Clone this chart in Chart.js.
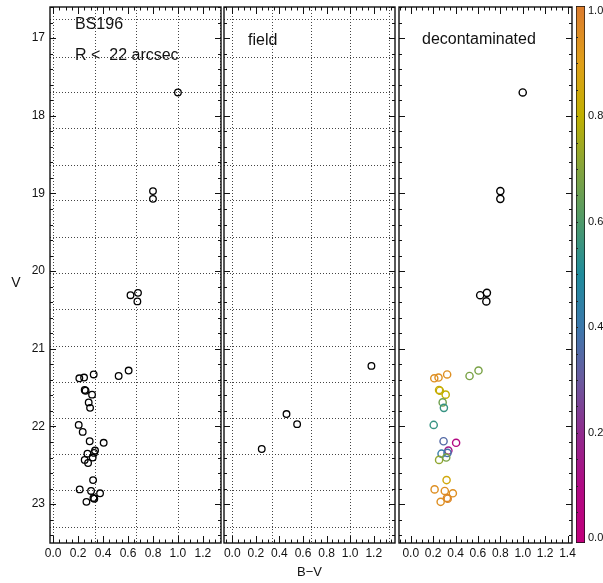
<!DOCTYPE html>
<html>
<head>
<meta charset="utf-8">
<script src="https://cdn.jsdelivr.net/npm/chart.js@4.4.1/dist/chart.umd.min.js"></script>
<style>
  html, body { margin: 0; padding: 0; background: #fff; }
  #wrap { position: relative; width: 603px; height: 583px; background: #fff; overflow: hidden; }
  #wrap canvas { position: absolute; left: 0; top: 0; }
</style>
</head>
<body>
<div id="wrap">
  <canvas id="pRegion" width="603" height="583"></canvas>
  <canvas id="pField" width="603" height="583"></canvas>
  <canvas id="pDecont" width="603" height="583"></canvas>
  <canvas id="pBar" width="603" height="583"></canvas>
</div>
<script>
const FONT = "'Liberation Sans', Arial, Helvetica, sans-serif";

// ---- axis ticks and grid ----
const vTicks = [17, 18, 19, 20, 21, 22, 23];
const bvTicks = [0.0, 0.2, 0.4, 0.6, 0.8, 1.0, 1.2];
const bvTicksDecont = [0.0, 0.2, 0.4, 0.6, 0.8, 1.0, 1.2, 1.4];
const probTicks = [0.0, 0.2, 0.4, 0.6, 0.8, 1.0];
const gridBV = [0, 0.333, 0.667, 1.0, 1.333];
const gridV = [16.76, 17.24, 17.70, 18.16, 18.63, 19.09, 19.56, 20.02, 20.49, 20.96, 21.43, 21.89, 22.36, 22.82, 23.29];

// ---- stars within R < 22 arcsec of BS196 ----
const regionBV = [1.00, 0.80, 0.80, 0.62, 0.68, 0.675,
  0.325, 0.525, 0.605, 0.21, 0.248,
  0.253, 0.26, 0.312, 0.285, 0.296, 0.205,
  0.237,
  0.293, 0.405, 0.336, 0.328, 0.275, 0.253, 0.317, 0.28,
  0.32, 0.213, 0.304, 0.376, 0.323, 0.33, 0.267];
const regionV = [17.70, 18.97, 19.07, 20.31, 20.28, 20.39,
  21.33, 21.35, 21.28, 21.38, 21.37,
  21.53, 21.54, 21.59, 21.69, 21.76, 21.98,
  22.07,
  22.19, 22.21, 22.31, 22.34, 22.35, 22.43, 22.40, 22.47,
  22.69, 22.81, 22.83, 22.86, 22.92, 22.93, 22.97];

// ---- comparison field, same area ----
const fieldBV = [0.25, 0.46, 0.55, 1.18];
const fieldV = [22.29, 21.84, 21.97, 21.22];

// ---- decontaminated sample; membership probability (null = no estimate, drawn black) ----
const decontBV = [1.00, 0.80, 0.80, 0.62, 0.68, 0.675,
  0.325, 0.525, 0.605, 0.21, 0.248,
  0.253, 0.26, 0.312, 0.285, 0.296, 0.205,
  0.293, 0.405, 0.336, 0.328, 0.275, 0.253, 0.317,
  0.32, 0.213, 0.304, 0.376, 0.323, 0.33, 0.267];
const decontV = [17.70, 18.97, 19.07, 20.31, 20.28, 20.39,
  21.33, 21.35, 21.28, 21.38, 21.37,
  21.53, 21.54, 21.59, 21.69, 21.76, 21.98,
  22.19, 22.21, 22.31, 22.34, 22.35, 22.43, 22.40,
  22.69, 22.81, 22.83, 22.86, 22.92, 22.93, 22.97];
const decontP = [null, null, null, null, null, null,
  0.95, 0.68, 0.68, 0.95, 0.95,
  0.82, 0.82, 0.80, 0.66, 0.55, 0.55,
  0.35, 0.08, 0.15, 0.38, 0.42, 0.72, 0.68,
  0.85, 0.95, 0.95, 0.95, 0.97, 0.97, 0.95];

// colour table for membership probability
const cmap = [
  [0.0, [192, 0, 124]], [0.1, [176, 10, 132]], [0.2, [143, 43, 141]],
  [0.3, [106, 90, 158]], [0.4, [60, 120, 172]], [0.5, [31, 140, 156]],
  [0.6, [79, 154, 106]], [0.7, [132, 164, 60]], [0.8, [192, 176, 0]],
  [0.9, [224, 160, 24]], [1.0, [220, 126, 44]]
];
function cmapColor(p) {
  if (p === null || p === undefined) return '#000';
  for (let i = 1; i < cmap.length; i++) {
    if (p <= cmap[i][0]) {
      const [p0, c0] = cmap[i - 1], [p1, c1] = cmap[i];
      const t = (p - p0) / (p1 - p0);
      const c = c0.map((v, k) => Math.round(v + (c1[k] - v) * t));
      return `rgb(${c[0]},${c[1]},${c[2]})`;
    }
  }
  const c = cmap[cmap.length - 1][1];
  return `rgb(${c[0]},${c[1]},${c[2]})`;
}

const V_MIN = 16.6, V_MAX = 23.5;

// frame: dotted grid, inward ticks on all four sides, box, annotations
const framePlugin = {
  id: 'frame',
  beforeDatasetsDraw(chart, args, o) {
    const { ctx, chartArea: a, scales: { x, y } } = chart;
    ctx.save();
    if (o.grid) {
      ctx.strokeStyle = '#444';
      ctx.lineWidth = 1;
      ctx.setLineDash([1, 2]);
      ctx.beginPath();
      gridBV.forEach(v => {
        const px = Math.round(x.getPixelForValue(v)) + 0.5;
        ctx.moveTo(px, a.top); ctx.lineTo(px, a.bottom);
      });
      gridV.forEach(v => {
        const py = Math.round(y.getPixelForValue(v)) + 0.5;
        ctx.moveTo(a.left, py); ctx.lineTo(a.right, py);
      });
      ctx.stroke();
      ctx.setLineDash([]);
    }
    ctx.strokeStyle = '#111';
    ctx.lineWidth = 1;
    ctx.beginPath();
    // B-V ticks: major on labels, minor every 0.05
    const xStep = 0.05;
    for (let k = Math.ceil(x.min / xStep - 1e-6); k * xStep <= x.max + 1e-6; k++) {
      const v = k * xStep;
      const major = Math.abs(v / 0.2 - Math.round(v / 0.2)) < 1e-6;
      const len = major ? 7 : 3.5;
      const px = Math.round(x.getPixelForValue(v)) + 0.5;
      ctx.moveTo(px, a.bottom); ctx.lineTo(px, a.bottom - len);
      ctx.moveTo(px, a.top); ctx.lineTo(px, a.top + len);
    }
    // V ticks: major each magnitude, minor every 0.2
    const yStep = 0.2;
    for (let k = Math.ceil(y.min / yStep - 1e-6); k * yStep <= y.max + 1e-6; k++) {
      const v = k * yStep;
      const major = Math.abs(v - Math.round(v)) < 1e-6;
      const len = major ? 6 : 3;
      const py = Math.round(y.getPixelForValue(v)) + 0.5;
      ctx.moveTo(a.left, py); ctx.lineTo(a.left + len, py);
      ctx.moveTo(a.right, py); ctx.lineTo(a.right - len, py);
    }
    ctx.stroke();
    ctx.restore();
  },
  afterDraw(chart, args, o) {
    const { ctx, chartArea: a } = chart;
    ctx.save();
    ctx.strokeStyle = '#111';
    ctx.lineWidth = 1.4;
    ctx.strokeRect(a.left, a.top, a.right - a.left, a.bottom - a.top);
    ctx.fillStyle = '#111';
    ctx.textBaseline = 'middle';
    (o.texts || []).forEach(t => {
      ctx.font = `${t.size || 16}px ${FONT}`;
      ctx.textAlign = t.align || 'left';
      ctx.fillText(t.text, t.x, t.y);
    });
    ctx.restore();
  }
};

function noEdgePadding(s) {
  s.paddingTop = 0; s.paddingBottom = 0; s.paddingLeft = 0; s.paddingRight = 0;
}

function xAxis(min, max, ticks, title) {
  return {
    type: 'linear', min, max,
    afterBuildTicks: s => { s.ticks = ticks.map(v => ({ value: v })); },
    afterFit: s => { s.height = 40; noEdgePadding(s); },
    grid: { display: false, drawTicks: false },
    border: { display: false },
    ticks: {
      color: '#111', padding: 3, autoSkip: false, maxRotation: 0,
      font: { family: FONT, size: 12 },
      callback: v => Number(v).toFixed(1)
    },
    title: title ? {
      display: true, text: title, color: '#111',
      font: { family: FONT, size: 13 }, padding: { top: 0, bottom: 3 }
    } : { display: false }
  };
}

function yAxis(show) {
  return {
    type: 'linear', min: V_MIN, max: V_MAX, reverse: true, display: show,
    afterBuildTicks: s => { s.ticks = vTicks.map(v => ({ value: v })); },
    afterFit: s => { s.width = show ? 50 : 0; noEdgePadding(s); },
    grid: { display: false, drawTicks: false },
    border: { display: false },
    ticks: {
      color: '#111', padding: 5, autoSkip: false,
      font: { family: FONT, size: 12 },
      callback: v => String(v)
    }
  };
}

function panel(id, cfg) {
  return new Chart(document.getElementById(id), {
    type: 'scatter',
    data: { datasets: cfg.datasets },
    options: {
      responsive: false, animation: false, devicePixelRatio: 1, events: [],
      layout: { padding: { left: cfg.padLeft, right: cfg.padRight, top: 7, bottom: 0 } },
      scales: { x: xAxis(cfg.xMin, cfg.xMax, cfg.xTicks, cfg.xTitle), y: yAxis(cfg.showY) },
      plugins: {
        legend: { display: false }, tooltip: { enabled: false },
        frame: { grid: cfg.grid, texts: cfg.texts }
      }
    },
    plugins: [framePlugin]
  });
}

function pts(bv, v) { return bv.map((b, i) => ({ x: b, y: v[i] })); }

const ring = { pointRadius: 3.3, pointBorderWidth: 1.3, pointBackgroundColor: 'rgba(0,0,0,0)', pointBorderColor: '#000' };

panel('pRegion', {
  padLeft: 0, padRight: 382, xMin: -0.025, xMax: 1.345, xTicks: bvTicks, showY: true, grid: true,
  datasets: [Object.assign({ data: pts(regionBV, regionV) }, ring)],
  texts: [
    { text: 'BS196', x: 75, y: 25 },
    { text: 'R <  22 arcsec', x: 75, y: 56 },
    { text: 'V', x: 16, y: 283, align: 'center', size: 14 }
  ]
});

panel('pField', {
  padLeft: 224, padRight: 208, xMin: -0.07, xMax: 1.38, xTicks: bvTicks, showY: false, grid: true,
  xTitle: 'B\u2212V',
  datasets: [Object.assign({ data: pts(fieldBV, fieldV) }, ring)],
  texts: [{ text: 'field', x: 248, y: 41 }]
});

panel('pDecont', {
  padLeft: 399, padRight: 31, xMin: -0.105, xMax: 1.44, xTicks: bvTicksDecont, showY: false, grid: false,
  datasets: [{
    data: pts(decontBV, decontV),
    pointRadius: 3.6, pointBorderWidth: 1.4, pointBackgroundColor: 'rgba(0,0,0,0)',
    pointBorderColor: c => cmapColor(decontP[c.dataIndex])
  }],
  texts: [{ text: 'decontaminated', x: 422, y: 40 }]
});

// colour bar for membership probability
const P_MIN = -0.009, P_MAX = 1.009;
new Chart(document.getElementById('pBar'), {
  type: 'bar',
  data: {
    labels: ['p'],
    datasets: [{
      data: [[P_MIN, P_MAX]],
      categoryPercentage: 1, barPercentage: 1,
      borderColor: '#111', borderWidth: 1, borderSkipped: false,
      backgroundColor: c => {
        const ch = c.chart, y = ch.scales.y;
        if (!ch.chartArea) return '#888';
        const g = ch.ctx.createLinearGradient(0, y.getPixelForValue(0), 0, y.getPixelForValue(1));
        cmap.forEach(([p, col]) => g.addColorStop(p, `rgb(${col[0]},${col[1]},${col[2]})`));
        return g;
      }
    }]
  },
  options: {
    responsive: false, animation: false, devicePixelRatio: 1, events: [],
    layout: { padding: { left: 576, right: 0, top: 6, bottom: 40 } },
    scales: {
      x: { display: false },
      y: {
        position: 'right', min: P_MIN, max: P_MAX,
        afterBuildTicks: s => { s.ticks = probTicks.map(v => ({ value: v })); },
        afterFit: s => { s.width = 18; noEdgePadding(s); },
        grid: { display: false, drawTicks: false },
        border: { display: false },
        ticks: { color: '#111', padding: 3, font: { family: FONT, size: 11 }, callback: v => Number(v).toFixed(1) }
      }
    },
    plugins: { legend: { display: false }, tooltip: { enabled: false } }
  },
  plugins: [{
    id: 'barTicks',
    afterDatasetsDraw(chart) {
      const { ctx, chartArea: a, scales: { y } } = chart;
      ctx.save();
      ctx.strokeStyle = '#222';
      ctx.lineWidth = 1;
      ctx.beginPath();
      for (let k = 1; k * 0.05 < 1 - 1e-6; k++) {
        const py = Math.round(y.getPixelForValue(k * 0.05)) + 0.5;
        ctx.moveTo(a.left, py); ctx.lineTo(a.left + 2, py);
      }
      ctx.stroke();
      ctx.restore();
    }
  }]
});
</script>
</body>
</html>
